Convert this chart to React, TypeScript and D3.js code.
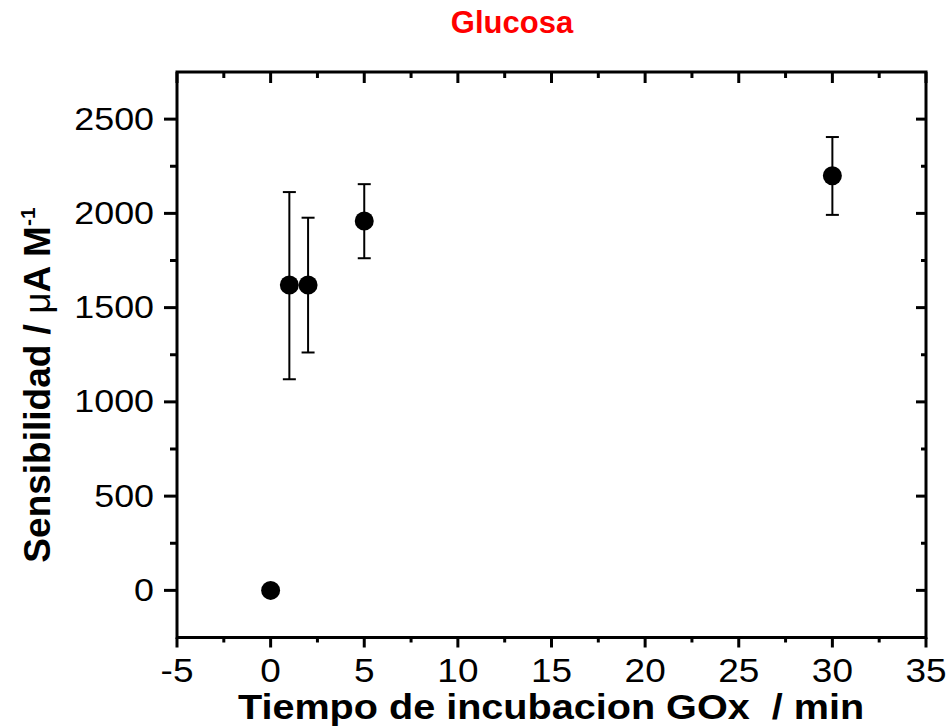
import React from "react";
import * as d3 from "d3";

const times = [0, 1, 2, 5, 30];
const sensitivity = [0, 1620, 1620, 1960, 2200];
const errLow = [0, 1120, 1262, 1762, 1992];
const errHigh = [0, 2113, 1977, 2155, 2405];
const xTicks = [-5, 0, 5, 10, 15, 20, 25, 30, 35];
const yTicks = [0, 500, 1000, 1500, 2000, 2500];
const xMinor = [-2.5, 2.5, 7.5, 12.5, 17.5, 22.5, 27.5, 32.5];
const yMinor = [250, 750, 1250, 1750, 2250];

const W = 948;
const H = 728;
const L = 177, R = 926, T = 72, B = 637.5;
const FONT = "'Liberation Sans', Arial, Helvetica, sans-serif";

export default function App() {
  const x = d3.scaleLinear().domain([-5, 35]).range([L, R]);
  const y = d3.scaleLinear().domain([-250, 2750]).range([B, T]);
  const tickW = 3;
  return (
    <svg width={W} height={H} style={{ position: "absolute", left: 0, top: 0, background: "#fff" }}>
      <text x={512} y={33} textAnchor="middle" fill="#ff0000" fontFamily={FONT} fontWeight="bold" fontSize={31}>
        Glucosa
      </text>
      {/* frame */}
      <rect x={L} y={T} width={R - L} height={B - T} fill="none" stroke="#000" strokeWidth={3} />
      {/* bottom ticks */}
      {xTicks.map((t) => (
        <g key={"xb" + t}>
          <line x1={x(t)} x2={x(t)} y1={B} y2={B + 10} stroke="#000" strokeWidth={tickW} />
          <line x1={x(t)} x2={x(t)} y1={T} y2={T + 11} stroke="#000" strokeWidth={tickW} />
          <text
            transform={`translate(${x(t)},682) scale(1.12,1)`}
            textAnchor="middle"
            fontFamily={FONT}
            fontSize={33}
            fill="#000"
          >
            {t}
          </text>
        </g>
      ))}
      {xMinor.map((t) => (
        <g key={"xm" + t}>
          <line x1={x(t)} x2={x(t)} y1={B} y2={B + 5} stroke="#000" strokeWidth={tickW} />
          <line x1={x(t)} x2={x(t)} y1={T} y2={T + 6} stroke="#000" strokeWidth={tickW} />
        </g>
      ))}
      {yTicks.map((t) => (
        <g key={"yt" + t}>
          <line x1={L - 13} x2={L} y1={y(t)} y2={y(t)} stroke="#000" strokeWidth={tickW} />
          <line x1={R - 10} x2={R} y1={y(t)} y2={y(t)} stroke="#000" strokeWidth={tickW} />
          <text
            transform={`translate(154,${y(t) + 10.5}) scale(1.12,1)`}
            textAnchor="end"
            fontFamily={FONT}
            fontSize={32}
            fill="#000"
          >
            {t}
          </text>
        </g>
      ))}
      {yMinor.map((t) => (
        <g key={"ym" + t}>
          <line x1={L - 7} x2={L} y1={y(t)} y2={y(t)} stroke="#000" strokeWidth={tickW} />
          <line x1={R - 5} x2={R} y1={y(t)} y2={y(t)} stroke="#000" strokeWidth={tickW} />
        </g>
      ))}
      {/* error bars */}
      {times.map((t, i) =>
        errHigh[i] - errLow[i] > 0 ? (
          <g key={"e" + i} stroke="#000" strokeWidth={2}>
            <line x1={x(t)} x2={x(t)} y1={y(errLow[i])} y2={y(errHigh[i])} />
            <line x1={x(t) - 6.5} x2={x(t) + 6.5} y1={y(errLow[i])} y2={y(errLow[i])} />
            <line x1={x(t) - 6.5} x2={x(t) + 6.5} y1={y(errHigh[i])} y2={y(errHigh[i])} />
          </g>
        ) : null
      )}
      {times.map((t, i) => (
        <circle key={"p" + i} cx={x(t)} cy={y(sensitivity[i])} r={9.5} fill="#000" />
      ))}
      {/* axis titles */}
      <text
        transform="translate(551,719) scale(1.1,1)"
        textAnchor="middle"
        fontFamily={FONT}
        fontWeight="bold"
        fontSize={36}
        fill="#000"
        style={{ whiteSpace: "pre" }}
      >
        {"Tiempo de incubacion GOx  / min"}
      </text>
      <text
        transform="translate(50,385) rotate(-90)"
        textAnchor="middle"
        fontFamily={FONT}
        fontWeight="bold"
        fontSize={37}
        fill="#000"
      >
        {"Sensibilidad / "}
        <tspan fontWeight="normal">μ</tspan>
        {"A M"}
        <tspan fontSize={21} dy={-15}>-1</tspan>
      </text>
    </svg>
  );
}
